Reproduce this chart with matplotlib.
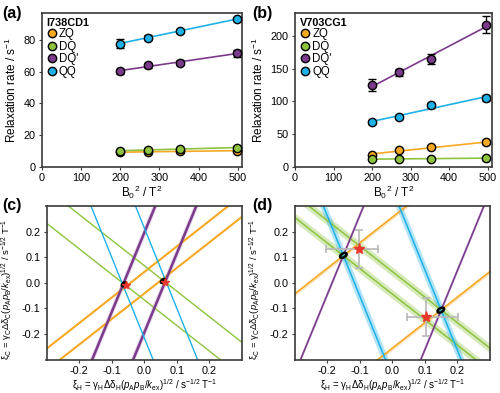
import numpy as np
import matplotlib
matplotlib.use("Agg")
import matplotlib.pyplot as plt
from matplotlib.patches import Ellipse

plt.rcParams['font.family'] = ['Liberation Sans', 'DejaVu Sans']
plt.rcParams['mathtext.fontset'] = 'custom'
plt.rcParams['mathtext.rm'] = 'Liberation Sans'
plt.rcParams['mathtext.it'] = 'Liberation Sans:italic'
plt.rcParams['mathtext.bf'] = 'Liberation Sans:bold'
plt.rcParams['axes.unicode_minus'] = False

# coherence order and colours
coh = ['ZQ', 'DQ', "DQ'", 'QQ']
colors = ['#f7a823', '#8dc33f', '#7b3a8b', '#1db1e7']

# B0^2 (T^2) for 14.1, 16.4, 18.8, 22.3 T
b0_sq = [199, 270, 353, 497]

# (a) I738CD1 relaxation rates (s^-1) and errors
a_zq = [9.0, 9.3, 9.6, 10.0]
a_dq = [10.0, 10.5, 11.0, 12.0]
a_dqp = [60.2, 64.0, 65.6, 71.5]
a_qq = [77.7, 81.5, 85.7, 93.2]
a_zq_err = [1.0, 1.0, 1.0, 1.0]
a_dq_err = [1.0, 1.0, 1.0, 1.0]
a_dqp_err = [1.5, 1.5, 1.5, 2.0]
a_qq_err = [3.0, 1.5, 1.5, 1.5]

# (b) V703CG1
b_zq = [18.0, 25.0, 29.5, 37.0]
b_dq = [11.5, 11.5, 12.0, 13.0]
b_dqp = [125.0, 145.0, 165.0, 218.0]
b_qq = [68.5, 76.0, 94.0, 105.5]
b_zq_err = [2.0, 2.0, 2.0, 3.0]
b_dq_err = [1.0, 1.0, 1.0, 1.5]
b_dqp_err = [9.0, 5.5, 8.0, 13.0]
b_qq_err = [3.0, 3.0, 4.0, 4.5]

# (c)/(d) constraint lines: xi_C = slope * xi_H +/- offset
slopes = [1.0, -1.0, 3.1, -3.15]
c_offsets = [0.042, 0.067, 0.195, 0.215]
d_offsets = [0.256, 0.044, 0.572, 0.366]
d_band = [0.0075, 0.018, 0.012, 0.033]

# (c) solutions
c_sol_x = [-0.062, 0.058]
c_sol_y = [-0.006, 0.007]
# (d) solutions and reference values
d_sol_x = [-0.150, 0.149]
d_sol_y = [0.107, -0.107]
d_ref_x = [-0.103, 0.103]
d_ref_y = [0.132, -0.133]
d_ref_xerr = [[0.10, 0.058], [0.058, 0.10]]
d_ref_yerr = [0.075, 0.075]

fig = plt.figure(figsize=(5.0, 3.93), dpi=100)
ax_a = fig.add_axes([0.083, 0.5763, 0.401, 0.3906])
ax_b = fig.add_axes([0.590, 0.5763, 0.393, 0.3906])
ax_c = fig.add_axes([0.093, 0.0852, 0.391, 0.3906])
ax_d = fig.add_axes([0.589, 0.0852, 0.391, 0.3906])


def style(ax):
    for s in ax.spines.values():
        s.set_color('#3a3a3a')
        s.set_linewidth(1.2)
    ax.tick_params(direction='out', length=2.5, width=0.8, labelsize=7.8, pad=2,
                   color='#3a3a3a')


def rate_panel(ax, title, series, errs, ylim, yticks):
    style(ax)
    xs = np.array(b0_sq, dtype=float)
    for name, col, ys, es in zip(coh, colors, series, errs):
        k, b = np.polyfit(xs, ys, 1)
        ax.plot([xs[0], xs[-1]], [k * xs[0] + b, k * xs[-1] + b], color=col, lw=1.2, zorder=2)
        ax.errorbar(xs, ys, yerr=es, fmt='none', ecolor='black', elinewidth=1.0,
                    capsize=3, capthick=1.0, zorder=3)
        ax.plot(xs, ys, 'o', ms=6, mfc=col, mec='black', mew=1.0, zorder=4, label=name)
    ax.set_xlim(0, 510)
    ax.set_ylim(*ylim)
    ax.set_xticks([0, 100, 200, 300, 400, 500])
    ax.set_yticks(yticks)
    ax.set_xlabel('B$_0$$^2$ / T$^2$', fontsize=8.5, labelpad=1)
    ax.set_ylabel('Relaxation rate / s$^{-1}$', fontsize=8.5, labelpad=3)
    leg = ax.legend(loc='upper left', frameon=False, fontsize=8.3, title=title,
                    title_fontproperties={'weight': 'bold', 'size': 7.8},
                    alignment='left', handletextpad=0.1, labelspacing=0.05,
                    borderaxespad=0.2, handlelength=1.0, borderpad=0.2)
    return leg


rate_panel(ax_a, 'I738CD1', [a_zq, a_dq, a_dqp, a_qq],
           [a_zq_err, a_dq_err, a_dqp_err, a_qq_err], (0, 97), [0, 20, 40, 60, 80])
rate_panel(ax_b, 'V703CG1', [b_zq, b_dq, b_dqp, b_qq],
           [b_zq_err, b_dq_err, b_dqp_err, b_qq_err], (0, 236), [0, 50, 100, 150, 200])

xlab = ('ξ$_{\\rm H}$ = γ$_{\\rm H}$Δδ$_{\\rm H}$($p_{\\rm A}p_{\\rm B}$/$k_{\\rm ex}$)$^{1/2}$'
        ' / s$^{-1/2}$ T$^{-1}$')
ylab = ('ξ$_{\\rm C}$ = γ$_{\\rm C}$Δδ$_{\\rm C}$($p_{\\rm A}p_{\\rm B}$/$k_{\\rm ex}$)$^{1/2}$'
        ' / s$^{-1/2}$ T$^{-1}$')

ticks = [-0.2, -0.1, 0.0, 0.1, 0.2]
for ax in (ax_c, ax_d):
    style(ax)
    ax.set_xlim(-0.3, 0.3)
    ax.set_ylim(-0.3, 0.3)
    ax.set_xticks(ticks)
    ax.set_yticks(ticks)
    ax.set_xticklabels([f'{t:.1f}' for t in ticks])
    ax.set_yticklabels([f'{t:.1f}' for t in ticks])
    ax.set_xlabel(xlab, fontsize=7.0, labelpad=1)
    ax.set_ylabel(ylab, fontsize=6.8)
    ax.yaxis.set_label_coords(-0.165, 0.46)

# (c)
c_lw = [1.5, 1.0, 1.8, 1.0]
for col, s, off, lw in zip(colors, slopes, c_offsets, c_lw):
    for sign in (1, -1):
        if lw > 1.6:
            ax_c.axline((0, sign * off), slope=s, color=col, lw=3.2, alpha=0.2, zorder=1)
        ax_c.axline((0, sign * off), slope=s, color=col, lw=lw, zorder=2)
for x, y in zip(c_sol_x, c_sol_y):
    ax_c.add_patch(Ellipse((x, y), 0.022, 0.014, angle=55, facecolor='black',
                           edgecolor='black', zorder=4))
    ax_c.plot(x + 0.005, y - 0.003, '*', color='#e8382b', ms=6, zorder=5)

# (d)
xx = np.array([-0.4, 0.4])
for col, s, off, w in zip(colors, slopes, d_offsets, d_band):
    for sign in (1, -1):
        ax_d.fill_between(xx, s * xx + sign * off - w, s * xx + sign * off + w,
                          color=col, alpha=0.35, lw=0, zorder=1)
for col, s, off in zip(colors, slopes, d_offsets):
    for sign in (1, -1):
        ax_d.axline((0, sign * off), slope=s, color=col, lw=1.1, zorder=2)
ax_d.errorbar(d_ref_x, d_ref_y, xerr=d_ref_xerr, yerr=d_ref_yerr, fmt='none',
              ecolor='#b8b8b8', elinewidth=1.2, capsize=3, capthick=1.2, zorder=3)
for x, y in zip(d_sol_x, d_sol_y):
    ax_d.add_patch(Ellipse((x, y), 0.024, 0.014, angle=42, facecolor='#4cbfc6',
                           edgecolor='black', lw=1.8, zorder=4))
ax_d.plot(d_ref_x, d_ref_y, '*', color='#e8382b', ms=8, zorder=5)

# panel labels
for lab, x, y in [('(a)', 0.004, 0.985), ('(b)', 0.504, 0.985),
                  ('(c)', 0.004, 0.497), ('(d)', 0.504, 0.497)]:
    fig.text(x, y, lab, fontsize=11.5, fontweight='bold', va='top', ha='left')

fig.savefig('out.png', dpi=100)
